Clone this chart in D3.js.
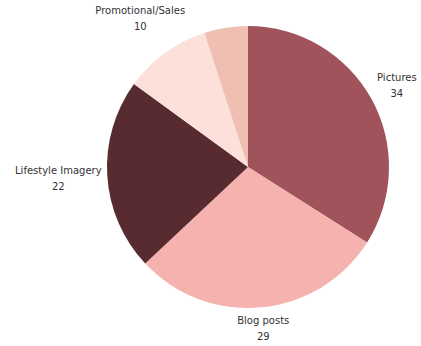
<!DOCTYPE html>
<html>
<head>
<meta charset="utf-8">
<script src="https://cdn.jsdelivr.net/npm/d3@7"></script>
<style>
  html, body { margin: 0; padding: 0; background: #fff; }
  svg text { font-family: "DejaVu Sans", sans-serif; font-size: 10px; fill: #333; }
</style>
</head>
<body>
<svg id="chart" width="421" height="346"></svg>
<script>
// Content categories and their counts
const categories = ["Pictures", "Blog posts", "Lifestyle Imagery", "Promotional/Sales", ""];
const values = [34, 29, 22, 10, 5];
const colors = ["#a0535b", "#f5b2af", "#582b31", "#fde0da", "#efbfb2"];

const width = 421, height = 346;
const cx = 248, cy = 167, radius = 141;

const svg = d3.select("#chart");
const g = svg.append("g").attr("transform", `translate(${cx},${cy})`);

const pie = d3.pie().sort(null).value(d => d.value);
const arc = d3.arc().innerRadius(0).outerRadius(radius);

const data = categories.map((c, i) => ({ name: c, value: values[i], color: colors[i] }));
const arcs = pie(data);

g.selectAll("path.slice")
  .data(arcs)
  .join("path")
  .attr("class", "slice")
  .attr("d", arc)
  .attr("fill", d => d.data.color);

// Two-line labels (name above, value below) pushed just outside the rim
const lineH = 16;
const labels = g.selectAll("g.label")
  .data(arcs.filter(d => d.data.name))
  .join("g")
  .attr("class", "label");

labels.append("text")
  .attr("text-anchor", "middle")
  .attr("y", -lineH / 2 + 3.5)
  .text(d => d.data.name);
labels.append("text")
  .attr("text-anchor", "middle")
  .attr("y", lineH / 2 + 3.5)
  .text(d => d.data.value);

labels.each(function(d) {
  const box = this.getBBox();
  const a = (d.startAngle + d.endAngle) / 2;
  const ux = Math.sin(a), uy = -Math.cos(a);
  const extent = Math.abs(ux) * box.width / 2 + Math.abs(uy) * box.height / 2;
  const dist = radius + 5 + extent;
  d3.select(this).attr("transform", `translate(${ux * dist},${uy * dist})`);
});
</script>
</body>
</html>
